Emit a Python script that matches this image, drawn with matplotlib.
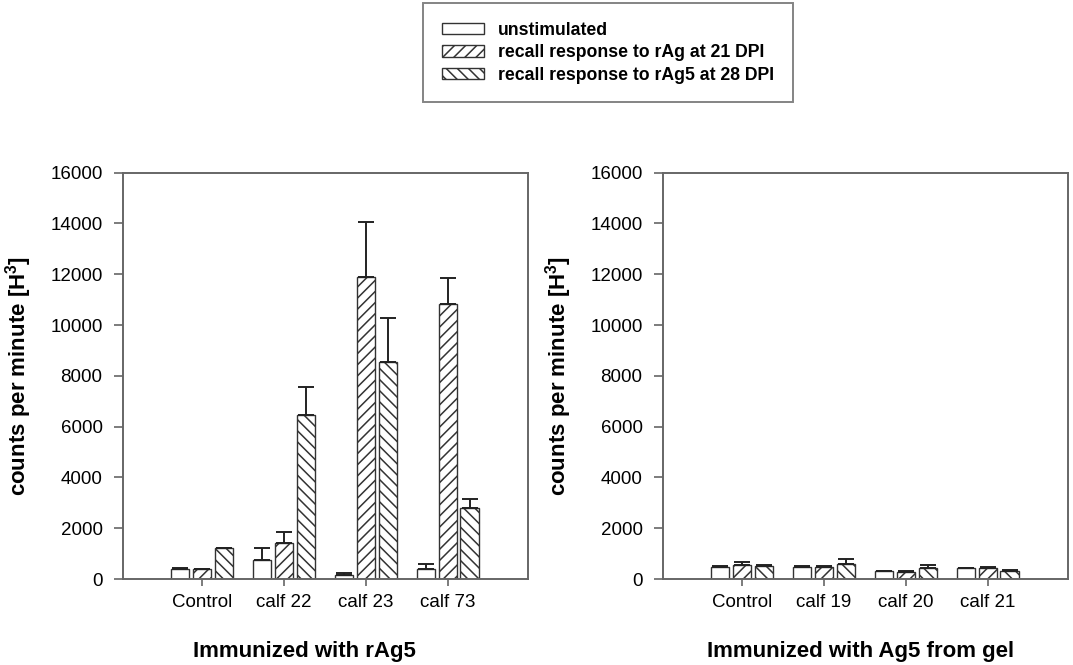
import matplotlib
matplotlib.use("Agg")
import matplotlib.pyplot as plt
import numpy as np

plt.rcParams['font.family'] = ['Liberation Sans', 'DejaVu Sans']
plt.rcParams['hatch.linewidth'] = 1.1
plt.rcParams['hatch.color'] = '#222222'

series = ["unstimulated", "recall response to rAg at 21 DPI", "recall response to rAg5 at 28 DPI"]

left_cats = ["Control", "calf 22", "calf 23", "calf 73"]
left_vals = [
    [400, 750, 160, 390],
    [380, 1410, 11900, 10815],
    [1210, 6450, 8530, 2780],
]
left_err = [
    [20, 460, 60, 190],
    [20, 450, 2170, 1045],
    [20, 1100, 1760, 360],
]

right_cats = ["Control", "calf 19", "calf 20", "calf 21"]
right_vals = [
    [485, 485, 300, 440],
    [560, 480, 280, 430],
    [500, 580, 430, 320],
]
right_err = [
    [10, 10, 10, 10],
    [110, 20, 20, 50],
    [70, 190, 120, 40],
]

left_xlabel = "Immunized with rAg5"
right_xlabel = "Immunized with Ag5 from gel"
ylabel = "counts per minute [H$^\\mathregular{3}$]"
yticks = [0, 2000, 4000, 6000, 8000, 10000, 12000, 14000, 16000]

hatches = [None, '///', '\\\\\\']

fig = plt.figure(figsize=(10.73, 6.65), dpi=100)
W, H = 1073, 665

def make_ax(x0px, cats, vals, errs, xlabel, xlab_px):
    ax = fig.add_axes([x0px / W, 1 - 579 / H, 405.3 / W, (579 - 172.7) / H])
    x = np.arange(len(cats))
    width = 0.225
    step = 0.268
    handles = []
    for i in range(3):
        pos = x + (i - 1) * step
        b = ax.bar(pos, vals[i], width=width, facecolor='white', edgecolor='#333333',
                   linewidth=1.0, hatch=hatches[i], label=series[i], zorder=2)
        handles.append(b)
        ax.errorbar(pos, vals[i], yerr=[np.zeros(len(cats)), errs[i]], fmt='none',
                    ecolor='#222222', elinewidth=1.4, capsize=5.5, capthick=1.4, zorder=3)
    ax.set_xlim(-0.97, 3.98)
    ax.set_ylim(0, 16000)
    ax.set_yticks(yticks)
    ax.set_yticklabels([str(t) for t in yticks], fontsize=13.5)
    ax.set_xticks(x)
    ax.set_xticklabels(cats, fontsize=13.5)
    ax.tick_params(axis='y', direction='out', length=6.5, width=1.2, color='#666666', pad=8)
    ax.tick_params(axis='x', direction='out', length=5, width=1.2, color='#666666', pad=6)
    for s in ax.spines.values():
        s.set_color('#666666')
        s.set_linewidth(1.4)
    ax.set_ylabel(ylabel, fontsize=16, fontweight='bold')
    ax.yaxis.set_label_coords(-0.2196, 0.5)
    ax.set_xlabel(xlabel, fontsize=16, fontweight='bold')
    ax.xaxis.set_label_coords((xlab_px - x0px) / 405.3, (579 - 641) / 406.3)
    return ax, handles

axL, handles = make_ax(122.7, left_cats, left_vals, left_err, left_xlabel, 304)
axR, _ = make_ax(662.7, right_cats, right_vals, right_err, right_xlabel, 861)

leg = fig.legend(handles, series, loc='upper left', bbox_to_anchor=(423 / W, 1 - 3 / H),
                 frameon=True, fancybox=False, prop={'weight': 'bold', 'size': 12.7},
                 handlelength=2.4, handleheight=0.6, handletextpad=0.8, labelspacing=0.32,
                 borderpad=1.05, borderaxespad=0)
leg.get_frame().set_edgecolor('#666666')
leg.get_frame().set_linewidth(1.4)

fig.savefig("out.png", dpi=100)
